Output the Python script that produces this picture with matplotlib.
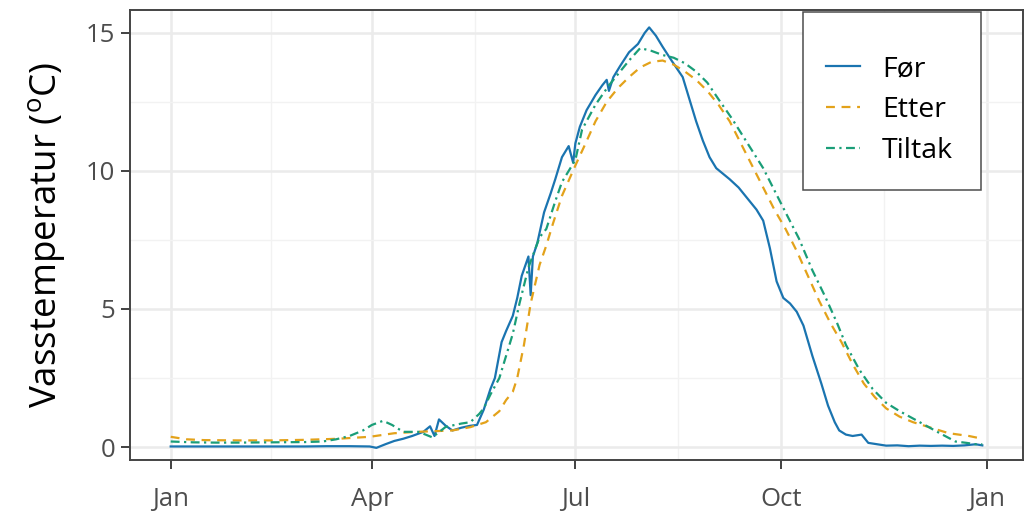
import numpy as np
import pandas as pd
import matplotlib
matplotlib.use("Agg")
import matplotlib.pyplot as plt
import matplotlib.dates as mdates
from matplotlib.patches import Rectangle

plt.rcParams['font.family'] = ['Open Sans', 'DejaVu Sans']
plt.rcParams['mathtext.fontset'] = 'custom'
plt.rcParams['mathtext.rm'] = 'Open Sans'

# dag i året -> vasstemperatur
for_dag = [0, 10, 20, 30, 40, 50, 60, 70, 80, 89, 92, 96, 100, 104, 108, 113, 116, 118,
           120, 123, 126, 130, 134, 137, 140, 143, 145, 148, 150, 153, 155, 157, 160, 161,
           162, 164, 167, 170, 172, 175, 178, 180, 181, 183, 186, 190, 193, 195, 196, 198,
           201, 205, 209, 212, 214, 217, 220, 224, 229, 232, 235, 238, 241, 244, 247, 250,
           254, 258, 262, 265, 268, 271, 274, 277, 280, 283, 287, 291, 294, 297, 299, 302,
           305, 309, 312, 316, 320, 325, 330, 335, 340, 345, 350, 355, 360, 363]
for_temp = [0.02, 0.02, 0.02, 0.02, 0.02, 0.02, 0.02, 0.03, 0.03, 0.02, -0.03, 0.1, 0.22,
            0.3, 0.4, 0.55, 0.75, 0.4, 1.0, 0.77, 0.6, 0.7, 0.77, 0.8, 1.35, 2.1, 2.5, 3.8,
            4.2, 4.75, 5.4, 6.2, 6.9, 5.5, 6.9, 7.4, 8.5, 9.2, 9.7, 10.5, 10.9, 10.3, 11.0,
            11.6, 12.2, 12.75, 13.1, 13.3, 12.9, 13.4, 13.8, 14.3, 14.6, 15.0, 15.2, 14.9,
            14.5, 14.0, 13.4, 12.6, 11.8, 11.1, 10.5, 10.1, 9.9, 9.7, 9.4, 9.0, 8.6, 8.2,
            7.2, 6.0, 5.4, 5.2, 4.9, 4.4, 3.3, 2.3, 1.5, 0.9, 0.6, 0.45, 0.4, 0.45, 0.15,
            0.1, 0.05, 0.06, 0.03, 0.05, 0.04, 0.05, 0.04, 0.06, 0.1, 0.06]

etter_dag = [0, 7, 15, 30, 45, 60, 75, 89, 100, 110, 120, 126, 134, 141, 147, 150, 153,
             155, 158, 161, 165, 168, 171, 175, 181, 185, 190, 195, 200, 205, 210, 215,
             220, 225, 230, 235, 240, 245, 250, 255, 260, 265, 270, 275, 280, 285, 290,
             295, 300, 305, 310, 315, 320, 326, 332, 340, 348, 357, 363]
etter_temp = [0.37, 0.28, 0.25, 0.24, 0.24, 0.26, 0.3, 0.37, 0.5, 0.55, 0.58, 0.6, 0.72,
              0.9, 1.3, 1.7, 2.0, 2.5, 3.7, 5.2, 6.6, 7.3, 8.1, 9.1, 10.2, 10.9, 11.8,
              12.5, 13.0, 13.4, 13.75, 13.95, 14.0, 13.85, 13.6, 13.3, 12.9, 12.4, 11.8,
              11.0, 10.2, 9.4, 8.6, 7.9, 7.1, 6.2, 5.3, 4.5, 3.8, 3.0, 2.3, 1.8, 1.4, 1.1,
              0.9, 0.7, 0.5, 0.4, 0.3]

tiltak_dag = [0, 10, 20, 30, 45, 60, 68, 74, 80, 86, 90, 95, 99, 104, 111, 117, 123, 130,
              134, 138, 140, 143, 147, 150, 153, 156, 160, 165, 168, 172, 175, 181, 184,
              190, 196, 200, 205, 210, 215, 220, 225, 230, 235, 240, 245, 251, 258, 265,
              270, 275, 281, 287, 293, 298, 302, 308, 314, 320, 326, 335, 344, 351, 356,
              360, 363]
tiltak_temp = [0.2, 0.17, 0.16, 0.16, 0.17, 0.18, 0.2, 0.28, 0.4, 0.6, 0.8, 0.95, 0.8,
               0.55, 0.55, 0.35, 0.73, 0.85, 0.9, 1.2, 1.4, 1.9, 2.5, 3.3, 4.1, 5.2, 6.5,
               7.6, 7.9, 8.9, 9.6, 10.4, 11.5, 12.4, 13.1, 13.5, 14.0, 14.45, 14.35, 14.2,
               14.1, 13.9, 13.6, 13.2, 12.6, 11.9, 11.0, 10.1, 9.3, 8.5, 7.55, 6.4, 5.4,
               4.5, 3.7, 2.8, 2.1, 1.6, 1.3, 0.9, 0.5, 0.2, 0.15, 0.1, 0.1]

start = pd.Timestamp("2021-01-01")
def til_dato(dager):
    return start + pd.to_timedelta(dager, unit="D")

fig = plt.figure(figsize=(10.32, 5.11), dpi=100)
ax = fig.add_axes([130/1032, 1 - 460/511, 893/1032, 450/511])

ax.plot(til_dato(for_dag), for_temp, color="#1A74B0", lw=1.6, label="Før", zorder=3)
ax.plot(til_dato(etter_dag), etter_temp, color="#E3A21A", lw=1.6, dashes=(4, 3),
        label="Etter", zorder=3)
ax.plot(til_dato(tiltak_dag), tiltak_temp, color="#1A9E78", lw=1.6, dashes=(4, 2, 1, 2),
        label="Tiltak", zorder=3)

ax.set_xlim(start + pd.Timedelta(days=-18.2), start + pd.Timedelta(days=381.2))
ax.set_ylim(-0.47, 15.83)

ax.xaxis.set_major_locator(mdates.MonthLocator(bymonth=[1, 4, 7, 10]))
ax.xaxis.set_major_formatter(mdates.DateFormatter("%b"))
ax.set_xticks([til_dato(45), til_dato(136), til_dato(227), til_dato(319)], minor=True)
ax.set_yticks([0, 5, 10, 15])
ax.set_yticks([2.5, 7.5, 12.5], minor=True)

ax.grid(True, which="major", color="#EBEBEB", lw=1.8, zorder=0)
ax.grid(True, which="minor", color="#F2F2F2", lw=1.0, zorder=0)
ax.set_axisbelow(True)

ax.tick_params(which="major", length=6.5, width=1.3, color="#333333",
               labelsize=18.5, labelcolor="#4D4D4D", pad=4)
ax.tick_params(axis="x", which="major", pad=13)
ax.tick_params(which="minor", length=0)
for s in ax.spines.values():
    s.set_color("#444444")
    s.set_linewidth(1.4)

ax.set_ylabel("Vasstemperatur ($^{\\mathrm{o}}$C)", fontsize=26.5, labelpad=13)

# legendeboks
bx0, by0, bw, bh = 0.754, 0.60, 0.199, 0.396
ax.add_patch(Rectangle((bx0, by0), bw, bh, transform=ax.transAxes, facecolor="white",
                       edgecolor="#4D4D4D", lw=1.1, zorder=4))
leg = ax.legend(loc="center", bbox_to_anchor=(bx0 + bw/2 - 0.003, by0 + bh/2 - 0.02),
                frameon=False, fontsize=20.5, handlelength=1.2, handletextpad=0.75,
                labelspacing=0.45)
leg.set_zorder(5)

plt.savefig("out.png", dpi=100)
